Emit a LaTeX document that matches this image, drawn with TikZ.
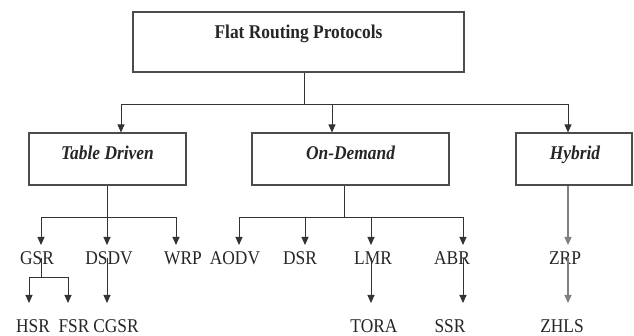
\documentclass[tikz,border=0pt]{standalone}
\usepackage{fontspec}
\setmainfont{Liberation Serif}
\usetikzlibrary{arrows.meta}
\newcommand{\tallt}[1]{\scalebox{1}[1.12]{#1}}
\begin{document}
\begin{tikzpicture}[x=1pt,y=-1pt,
  box/.style={draw=black!70, line width=1.1pt, rectangle, inner sep=0pt},
  lbl/.style={anchor=base, inner sep=0pt, text=black!85, font=\fontsize{17.4}{20}\selectfont},
  hdr/.style={lbl, font=\fontsize{17.4}{20}\selectfont\bfseries\itshape},
  ln/.style={draw=black!80, line width=0.9pt},
  arr/.style={ln, -{Triangle[width=7pt,length=8pt]}},
  hyb/.style={draw=black!50, line width=1.2pt}
]
\useasboundingbox (0,0) rectangle (634,336);
\fill[white] (0,0) rectangle (634,336);

% root
\node[box, minimum width=331pt, minimum height=60pt] (root) at (298.5,42) {};
\node[lbl, font=\fontsize{17.4}{20}\selectfont\bfseries] (rootl) at (298.5,39) {\tallt{Flat Routing Protocols}};

% second level boxes
\node[box, minimum width=157pt, minimum height=52pt] (td) at (107.5,159) {};
\node[hdr] (tdl) at (107.5,160) {\tallt{Table Driven}};
\node[box, minimum width=197pt, minimum height=52pt] (od) at (350.5,159) {};
\node[hdr] (odl) at (350.5,160) {\tallt{On-Demand}};
\node[box, minimum width=116pt, minimum height=52pt] (hy) at (574,159) {};
\node[hdr] (hyl) at (575,160) {\tallt{Hybrid}};

% top bus
\coordinate (rj) at (304,104);
\coordinate (bTD) at (121,104);
\coordinate (bOD) at (332,104);
\coordinate (bHY) at (568,104);
\draw[ln] (root.south -| rj) -- (rj);
\draw[ln] (bTD) -- (bHY);
\draw[arr] (bTD) -- (bTD |- td.north);
\draw[arr] (bOD) -- (bOD |- od.north);
\draw[arr] (bHY) -- (bHY |- hy.north);

% row 1 labels
\node[lbl] (gsr) at (37,265) {\tallt{GSR}};
\node[lbl] (dsdv) at (109,265) {\tallt{DSDV}};
\node[lbl] (wrp) at (183,265) {\tallt{WRP}};
\node[lbl] (aodv) at (235,265) {\tallt{AODV}};
\node[lbl] (dsr) at (300,265) {\tallt{DSR}};
\node[lbl] (lmr) at (373,265) {\tallt{LMR}};
\node[lbl] (abr) at (452,265) {\tallt{ABR}};
\node[lbl] (zrp) at (565,265) {\tallt{ZRP}};

% row 2 labels
\node[lbl] (hsr) at (33,332) {\tallt{HSR}};
\node[lbl] (fsr) at (74,332) {\tallt{FSR}};
\node[lbl] (cgsr) at (116,332) {\tallt{CGSR}};
\node[lbl] (tora) at (374,332) {\tallt{TORA}};
\node[lbl] (ssr) at (450,332) {\tallt{SSR}};
\node[lbl] (zhls) at (562,332) {\tallt{ZHLS}};

% Table Driven children
\coordinate (tdj) at (107,217);
\coordinate (tdL) at (41,217);
\coordinate (tdR) at (176,217);
\draw[ln] (td.south -| tdj) -- (tdj);
\draw[ln] (tdL) -- (tdR);
\draw[arr] (tdL) -- ++(0,28);
\draw[arr] (tdj) -- ++(0,28);
\draw[arr] (tdR) -- ++(0,28);

% GSR children
\coordinate (gsrS) at (41,258);
\coordinate (gsrj) at (41,277);
\coordinate (gL) at (29,277);
\coordinate (gR) at (68,277);
\draw[ln] (gsrS) -- (gsrj);
\draw[ln] (gL) -- (gR);
\draw[arr] (gL) -- ++(0,26);
\draw[arr] (gR) -- ++(0,26);

% DSDV -> CGSR
\coordinate (dsdvS) at (107,258);
\draw[arr] (dsdvS) -- (107,303);

% On-Demand children
\coordinate (odj) at (344,217);
\coordinate (oL) at (239,217);
\coordinate (oD) at (305,217);
\coordinate (oM) at (371,217);
\coordinate (oR) at (463,217);
\draw[ln] (od.south -| odj) -- (odj);
\draw[ln] (oL) -- (oR);
\draw[arr] (oL) -- ++(0,28);
\draw[arr] (oD) -- ++(0,28);
\draw[arr] (oM) -- ++(0,28);
\draw[arr] (oR) -- ++(0,28);

% LMR -> TORA, ABR -> SSR
\coordinate (lmrS) at (371,258);
\coordinate (abrS) at (463,258);
\draw[arr] (lmrS) -- ++(0,45);
\draw[arr] (abrS) -- ++(0,45);

% Hybrid
\coordinate (hyS) at (568,185);
\coordinate (zrpS) at (568,258);
\draw[hyb, -{Triangle[width=7pt,length=8pt]}] (hy.south -| hyS) -- (568,245);
\draw[hyb, -{Triangle[width=7pt,length=8pt]}] (zrpS) -- (568,303);
\end{tikzpicture}
\end{document}
